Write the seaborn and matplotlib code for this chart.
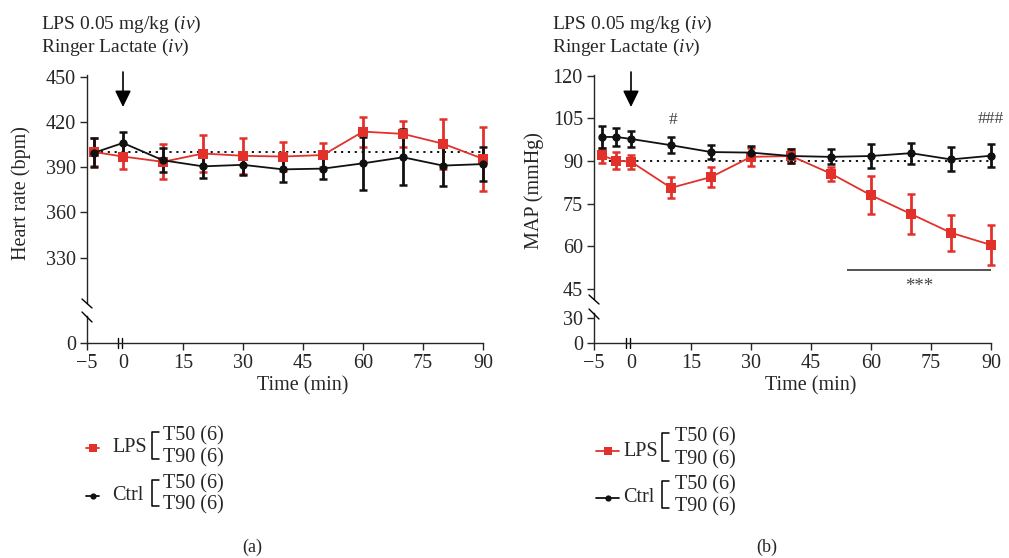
import numpy as np
import pandas as pd
import matplotlib
matplotlib.use("Agg")
import matplotlib.pyplot as plt
import matplotlib.transforms as mtransforms
from matplotlib.lines import Line2D
import seaborn as sns

# ---------------- data ----------------
hr_time = [-5, 0, 10, 20, 30, 40, 50, 60, 70, 80, 90]
hr_lps_mean = [400.0, 397.0, 393.5, 399.0, 397.5, 397.0, 398.0, 413.5, 412.0, 405.5, 395.5]
hr_lps_err = [9.5, 8.5, 11.5, 12.0, 12.0, 9.5, 8.0, 10.0, 8.8, 16.5, 21.0]
hr_ctrl_mean = [399.5, 406.0, 394.5, 390.5, 391.5, 388.5, 389.0, 392.5, 396.5, 391.0, 392.0]
hr_ctrl_err = [9.5, 7.0, 8.0, 7.8, 7.0, 8.5, 7.0, 17.7, 18.5, 13.7, 11.5]

map_time = [-10, -5, 0, 10, 20, 30, 40, 50, 60, 70, 80, 90]
map_lps_mean = [92.0, 90.2, 89.8, 80.6, 84.4, 91.5, 91.8, 85.6, 78.0, 71.4, 64.8, 60.5]
map_lps_err = [2.7, 2.9, 2.5, 3.7, 3.6, 3.2, 2.5, 2.5, 6.7, 7.2, 6.4, 7.0]
map_ctrl_mean = [98.5, 98.5, 97.8, 95.6, 93.2, 93.0, 91.8, 91.5, 91.8, 92.8, 90.6, 91.9]
map_ctrl_err = [3.8, 3.3, 2.8, 2.9, 2.6, 2.3, 2.6, 2.6, 4.2, 3.7, 4.2, 4.0]

x_tick_vals = [0, 15, 30, 45, 60, 75, 90]
groups = ["LPS", "Ctrl"]
legend_sub = ["T50 (6)", "T90 (6)"]

RED = "#e2312a"
BLACK = "#111111"
GRAY = "#444444"

# ---------------- style ----------------
sns.set_style("ticks")
plt.rcParams["font.family"] = ["Liberation Serif", "DejaVu Serif"]
plt.rcParams["mathtext.fontset"] = "custom"
plt.rcParams["mathtext.rm"] = "Liberation Serif"
plt.rcParams["mathtext.it"] = "Liberation Serif:italic"
plt.rcParams["axes.linewidth"] = 1.0
FS = 14.5

W, H = 1009, 558
fig = plt.figure(figsize=(W / 100, H / 100), dpi=100)


def fx(px):
    return px / W


def fy(py):
    return 1 - py / H


def rect(l, t, r, b):
    return [fx(l), fy(b), (r - l) / W, (b - t) / H]


def fig_line(xs, ys, **kw):
    fig.add_artist(Line2D([fx(x) for x in xs], [fy(y) for y in ys], **kw))


def panel(left, right, top_t, top_b, low_t, low_b, xmin, neg_scale,
          times, lps_m, lps_e, ctrl_m, ctrl_e, ylim_top, yticks_top,
          ylim_low, yticks_low, ref):
    ax = fig.add_axes(rect(left, top_t, right, top_b))
    axl = fig.add_axes(rect(left, low_t, right, low_b))
    pos = [t if t >= 0 else t * neg_scale for t in times]
    df = pd.DataFrame({
        "pos": pos * 2,
        "val": list(lps_m) + list(ctrl_m),
        "err": list(lps_e) + list(ctrl_e),
        "group": ["LPS"] * len(pos) + ["Ctrl"] * len(pos),
    })
    ax.hlines(ref, pos[0], 90, colors="black", linestyles=(0, (1.2, 2.6)), lw=1.3, zorder=1)
    for g, col, mk, ms in [("LPS", RED, "s", 6.5), ("Ctrl", BLACK, "o", 6)]:
        d = df[df.group == g]
        eb = ax.errorbar(d.pos, d.val, yerr=d.err, fmt="none", ecolor=col,
                         elinewidth=2.0, capsize=3.2, capthick=1.8, zorder=3)
        for art in eb.lines[1] + eb.lines[2]:
            art.set_clip_on(False)
        sns.lineplot(data=d, x="pos", y="val", color=col, marker=mk,
                     markersize=ms, markeredgewidth=0, lw=1.3, ax=ax,
                     legend=False, zorder=4, errorbar=None, clip_on=False)
    for a in (ax, axl):
        a.set_xlim(xmin, 90)
        sns.despine(ax=a)
        a.tick_params(direction="out", length=5, width=1.0, labelsize=FS, pad=3)
        a.set_xlabel("")
        a.set_ylabel("")
    ax.set_ylim(*ylim_top)
    ax.set_yticks(yticks_top)
    ax.spines["bottom"].set_visible(False)
    ax.set_xticks([])
    axl.set_ylim(*ylim_low)
    axl.set_yticks(yticks_low)
    axl.set_xticks([xmin] + x_tick_vals)
    axl.set_xticklabels(["\u22125"] + [str(v) for v in x_tick_vals])
    axl.xaxis.get_major_ticks()[1].tick1line.set_visible(False)
    axl.patch.set_alpha(0)
    ax.patch.set_alpha(0)
    # x-axis break marks at 0
    bt = mtransforms.blended_transform_factory(axl.transData, fig.transFigure)
    for xb in (-1.2, -0.2):
        axl.add_line(Line2D([xb, xb], [fy(low_b - 5), fy(low_b + 5)], transform=bt,
                            color="black", lw=1.0, clip_on=False))
    # y-axis break slashes
    fig_line([left - 5, left + 5], [top_b - 4, top_b + 5], color="black", lw=1.0)
    fig_line([left - 5, left + 5], [low_t - 4, low_t + 6], color="black", lw=1.0)
    # arrow at time 0
    ax.annotate("", xy=(0, H - 107), xytext=(0, H - 72),
                xycoords=("data", "figure pixels"), textcoords=("data", "figure pixels"),
                arrowprops=dict(arrowstyle="-|>,head_length=0.45,head_width=0.22",
                                mutation_scale=22, color="black", lw=1.2,
                                shrinkA=0, shrinkB=0),
                annotation_clip=False)
    # x label
    tb = mtransforms.blended_transform_factory(ax.transData, fig.transFigure)
    ax.text(45, fy(386), "Time (min)", transform=tb, ha="center", va="center",
            fontsize=FS, clip_on=False)
    return ax, axl


# Panel (a)
axA, axAl = panel(87, 483, 75, 303, 316, 343, -9, 1.45, hr_time,
                  hr_lps_mean, hr_lps_err, hr_ctrl_mean, hr_ctrl_err,
                  (300, 451), [330, 360, 390, 420, 450], (0, 17.8), [0], 400)
fig.text(fx(21), fy(193), "Heart rate (bpm)", rotation=90, ha="center", va="center", fontsize=FS)

# Panel (b)
axB, axBl = panel(594, 991, 75, 299, 313, 343, -9.25, 0.73, map_time,
                  map_lps_mean, map_lps_err, map_ctrl_mean, map_ctrl_err,
                  (41.5, 120.3), [45, 60, 75, 90, 105, 120], (0, 36), [0, 30], 90)
fig.text(fx(534), fy(191), "MAP (mmHg)", rotation=90, ha="center", va="center", fontsize=FS)

# significance marks
axB.text(10.5, 104.5, "#", ha="center", va="center", fontsize=12.5, color=GRAY)
axB.text(90, 104.7, "###", ha="center", va="center", fontsize=12.5, color=GRAY)
axB.hlines(51.7, 54, 90, colors=GRAY, lw=1.3)
axB.text(72, 46.0, "***", ha="center", va="center", fontsize=13.5, color=GRAY)

# top treatment labels
for x0 in (41, 552):
    fig.text(fx(x0), fy(29), r"LPS 0.05 mg/kg ($\mathit{iv}$)", ha="left", va="baseline", fontsize=14)
    fig.text(fx(x0), fy(52), r"Ringer Lactate ($\mathit{iv}$)", ha="left", va="baseline", fontsize=14)


# legends
def legend_block(lx0, lx1, tx, bx, sx, rows):
    for (g, col, mk, ms, y, yt, yb) in rows:
        fig.add_artist(Line2D([fx(lx0), fx(lx1)], [fy(y), fy(y)], color=col, lw=1.3))
        fig.add_artist(Line2D([fx((lx0 + lx1) / 2)], [fy(y)], color=col, marker=mk,
                              markersize=ms, markeredgewidth=0, lw=0))
        fig.text(fx(tx), fy(y), g, ha="left", va="center", fontsize=FS)
        fig_line([bx + 7, bx, bx, bx + 7], [yt, yt, yb, yb], color="black", lw=1.1)
        fig.text(fx(sx), fy(yt + 4), legend_sub[0], ha="left", va="center", fontsize=FS)
        fig.text(fx(sx), fy(yb - 1), legend_sub[1], ha="left", va="center", fontsize=FS)


legend_block(86, 99, 112, 152, 163,
             [("LPS", RED, "s", 5.5, 448, 432, 459), ("Ctrl", BLACK, "o", 4.5, 496, 480, 506)])
legend_block(596, 619, 623, 662, 675,
             [("LPS", RED, "s", 5.5, 451, 433, 461), ("Ctrl", BLACK, "o", 4.5, 498, 481, 508)])

fig.text(fx(252), fy(547), "(a)", ha="center", va="center", fontsize=13)
fig.text(fx(767), fy(547), "(b)", ha="center", va="center", fontsize=13)

fig.savefig("out.png", dpi=100)
